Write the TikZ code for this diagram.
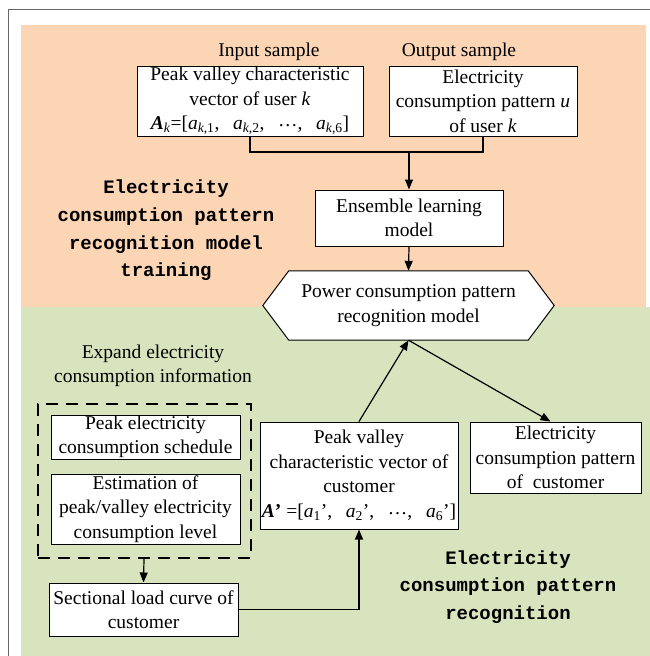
\documentclass[tikz,border=0pt]{standalone}
\usepackage{fontspec}
\setmainfont{Liberation Serif}
\newfontfamily\titlefont{Liberation Mono}
\usetikzlibrary{arrows.meta}
\definecolor{bgorange}{HTML}{FCD5B5}
\definecolor{bggreen}{HTML}{D7E4BD}
\definecolor{framegray}{HTML}{666666}
\newcommand{\vi}[1]{\textit{#1}}
\newcommand{\sepc}{,\hspace{0.7em}}
\newcommand{\cdotsx}{\raisebox{0.35ex}{…}}
\begin{document}
\begin{tikzpicture}[x=1pt,y=-1pt,
  box/.style={draw=black, line width=1pt, fill=white, align=center, inner sep=0pt,
    font=\fontsize{19.5}{24.5}\selectfont},
  lbl/.style={align=center, inner sep=0pt, font=\fontsize{19.5}{24.5}\selectfont},
  ttl/.style={align=center, inner sep=0pt, font=\titlefont\bfseries\fontsize{19}{27.7}\selectfont},
  arr/.style={line width=1.2pt, -{Triangle[length=10pt,width=8pt]}},
  conn/.style={line width=1.2pt},
  dashbox/.style={draw=black, line width=2pt, dash pattern=on 12pt off 8pt, minimum width=213pt, minimum height=154pt, inner sep=0pt}]
\useasboundingbox (0,0) rectangle (650,656);
% backgrounds
\fill[bgorange] (21,25) rectangle (646,307);
\fill[bggreen] (21,307) rectangle (650,656);
\draw[framegray, line width=1pt] (8,656) -- (8,9.5) -- (650,9.5);

% top part
\node[lbl] (inlbl) at (269,52) {Input sample};
\node[lbl] (outlbl) at (459,52) {Output sample};
\node[box, minimum width=226pt, minimum height=70pt] (b1) at (250,101)
  {Peak valley characteristic\\ vector of user \vi{k}\\
   \textbf{\textit{A}}\textsubscript{\vi{k}}=[\vi{a}\textsubscript{\vi{k},1}\sepc\vi{a}\textsubscript{\vi{k},2}\sepc\cdotsx\sepc\vi{a}\textsubscript{\vi{k},6}]};
\node[box, minimum width=188pt, minimum height=70pt] (b2) at (483,101)
  {Electricity\\ consumption pattern \vi{u}\\ of user \vi{k}};
\coordinate (j) at (409,152);
\draw[conn] (b1.south) |- (j) -| (b2.south);
\node[box, minimum width=188pt, minimum height=56pt] (ens) at (409,218)
  {Ensemble learning\\ model};
\draw[arr] (j) -- (ens.north);

\node[inner sep=0pt, minimum width=291pt, minimum height=69pt] (hex) at (408.5,305.5) {};
\draw[line width=1pt, fill=white] (hex.west) -- ([xshift=26pt]hex.north west) -- ([xshift=-26pt]hex.north east)
  -- (hex.east) -- ([xshift=-26pt]hex.south east) -- ([xshift=26pt]hex.south west) -- cycle;
\node[lbl] (hextxt) at (hex.center) {Power consumption pattern\\ recognition model};
\draw[arr] (ens.south) -- (hex.north);

\node[ttl] (ttl1) at (166,230.5) {Electricity\\ consumption pattern\\ recognition model\\ training};

% bottom part
\node[lbl] (explbl) at (153,366) {Expand electricity\\ consumption information};
\node[dashbox] (dash) at (144,481) {};
\node[box, minimum width=189pt, minimum height=44pt] (sched) at (145.5,437)
  {Peak electricity\\ consumption schedule};
\node[box, minimum width=189pt, minimum height=70pt] (est) at (145.5,509)
  {Estimation of\\ peak/valley electricity\\ consumption level};
\node[box, minimum width=189pt, minimum height=53pt] (sect) at (143.5,609.5)
  {Sectional load curve of\\ customer};
\draw[arr] (dash.south) -- (sect.north);

\node[box, minimum width=198pt, minimum height=107pt] (cust) at (359,475.5)
  {Peak valley\\ characteristic vector of\\ customer\\
   \textbf{\textit{A}}\textbf{'} =[\vi{a}\textsubscript{1}'\sepc\vi{a}\textsubscript{2}'\sepc\cdotsx\sepc\vi{a}\textsubscript{6}']};
\node[box, minimum width=171pt, minimum height=71pt] (outc) at (555.5,457.5)
  {Electricity\\ consumption pattern\\ of\ \ customer};
\draw[arr] (sect.east) -| (cust.south);
\draw[arr] (cust.north) -- (hex.south);
\draw[arr] (hex.south) -- ([xshift=-5pt]outc.north);

\node[ttl] (ttl2) at (508,587) {Electricity\\ consumption pattern\\ recognition};
\end{tikzpicture}
\end{document}
